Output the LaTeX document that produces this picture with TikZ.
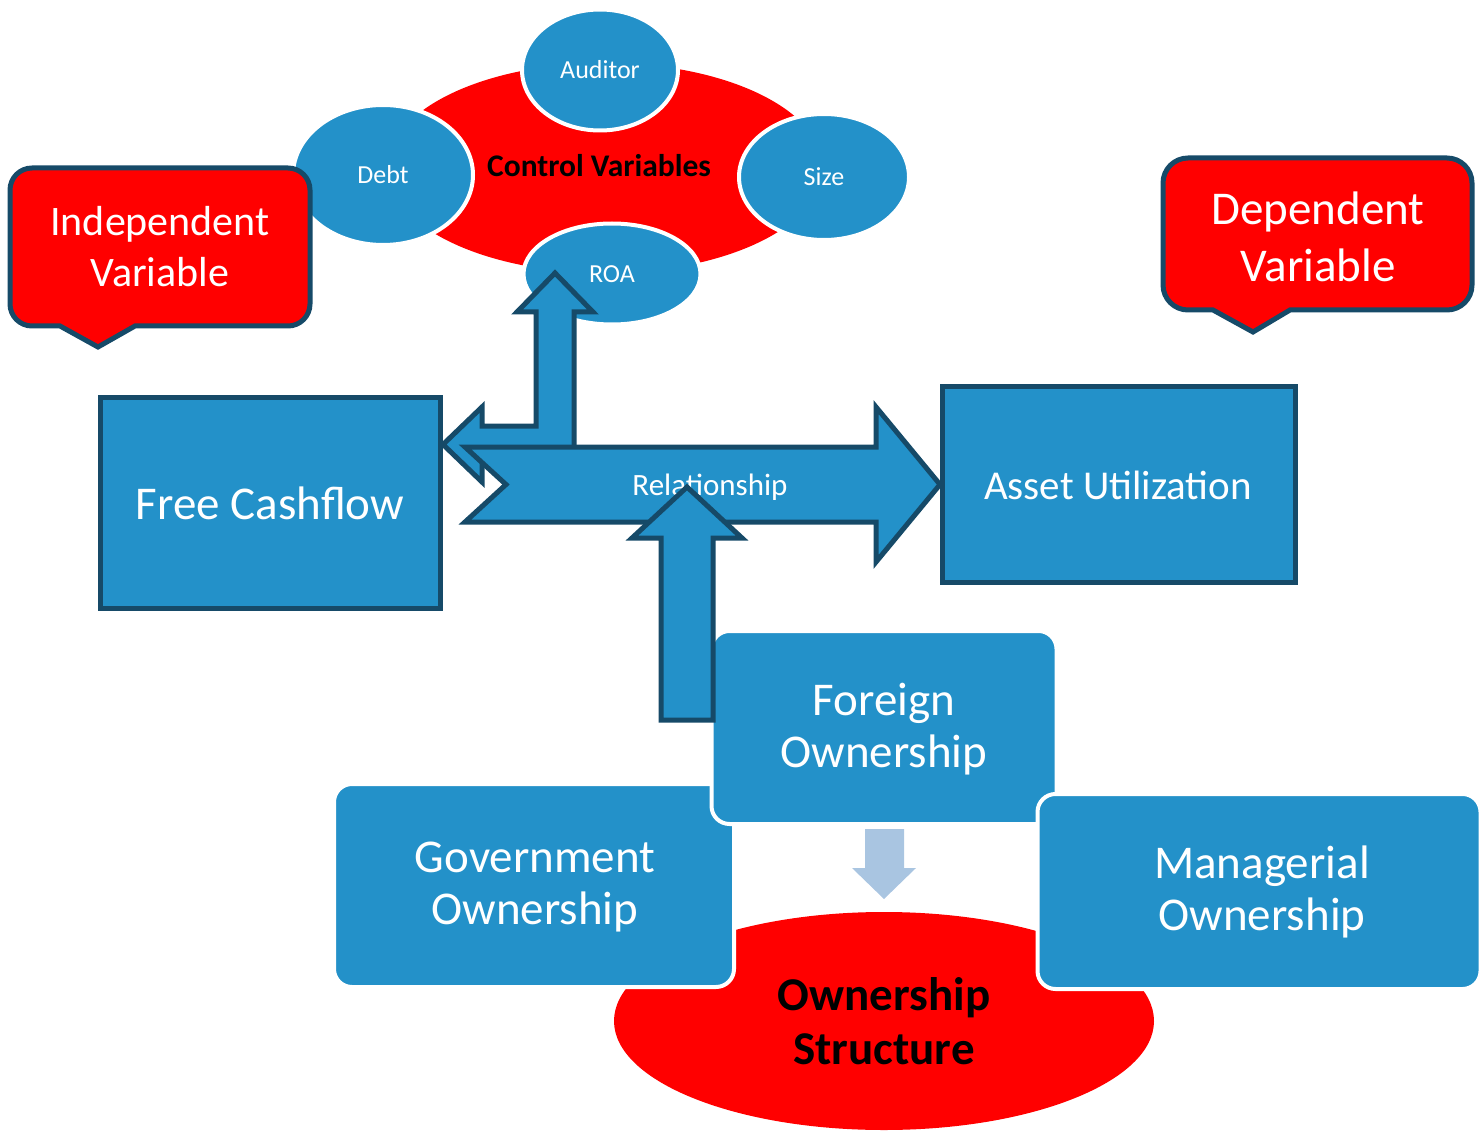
\documentclass[tikz,border=0pt]{standalone}
\usepackage{fontspec}
\setmainfont{Carlito}
\usetikzlibrary{shapes.geometric}
\definecolor{boxblue}{RGB}{35,145,201}
\definecolor{edgeblue}{RGB}{22,74,104}
\definecolor{hotred}{RGB}{255,0,0}
\definecolor{paleblue}{RGB}{169,197,225}
\newcommand{\fsz}[2]{\fontsize{#1}{#2}\selectfont}
\begin{document}
\begin{tikzpicture}[x=1pt,y=1pt,
  lbl/.style={text=white, align=center, inner sep=0pt},
  darklbl/.style={text=black, align=center, inner sep=0pt, font=\bfseries},
  ovalbox/.style={ellipse, fill=boxblue, draw=white, line width=4pt, inner sep=0pt},
  squarebox/.style={rectangle, fill=boxblue, draw=edgeblue, line width=5pt},
  softbox/.style={rectangle, rounded corners=18pt, fill=boxblue, draw=white, line width=4pt},
  blockarrow/.style={fill=boxblue, draw=edgeblue, line width=5pt},
  callout/.style={fill=hotred, draw=edgeblue, line width=5pt}]
\useasboundingbox (0,0) rectangle (1480,-1131);

% --- control variables cluster ---
\fill[hotred] (605,-168) ellipse [x radius=218, y radius=105];
\node[darklbl, font=\bfseries\fsz{31.5}{37}] (ctrl) at (599,-166) {Control Variables};
\node[ovalbox, minimum width=156pt, minimum height=121pt, font=\fsz{26}{30}, text=white] (aud) at (600,-70) {Auditor};
\node[ovalbox, minimum width=180pt, minimum height=140pt, font=\fsz{26}{30}, text=white] (debt) at (383,-175) {Debt};
\node[ovalbox, minimum width=170pt, minimum height=126pt, font=\fsz{26}{30}, text=white] (size) at (824,-177) {Size};
\node[ovalbox, minimum width=177pt, minimum height=101pt, font=\fsz{26}{30}, text=white] (roa) at (612,-274) {ROA};

% --- bent arrow towards ROA and back to free cashflow ---
\path[blockarrow] (555,-273) -- (593,-312) -- (574,-312) -- (574,-463) -- (482,-463)
  -- (482,-482) -- (443,-444.5) -- (482,-407) -- (482,-426) -- (536,-426)
  -- (536,-312) -- (517,-312) -- cycle;

% --- callouts ---
\path[callout] (60,-326) -- (32,-326) arc[start angle=270, end angle=180, radius=22pt]
  -- (10,-190) arc[start angle=180, end angle=90, radius=22pt]
  -- (288,-168) arc[start angle=90, end angle=0, radius=22pt]
  -- (310,-304) arc[start angle=0, end angle=-90, radius=22pt]
  -- (135,-326) -- (98,-347) -- cycle;
\node[lbl, font=\fsz{42}{51}] (indep) at (160,-247) {Independent\\Variable};

\path[callout] (1213,-310) -- (1188,-310) arc[start angle=270, end angle=180, radius=25pt]
  -- (1163,-183) arc[start angle=180, end angle=90, radius=25pt]
  -- (1447,-158) arc[start angle=90, end angle=0, radius=25pt]
  -- (1472,-285) arc[start angle=0, end angle=-90, radius=25pt]
  -- (1290,-310) -- (1253,-332) -- cycle;
\node[lbl, font=\fsz{47}{57}] (dep) at (1318,-237) {Dependent\\Variable};

% --- main boxes ---
\node[squarebox, minimum width=340pt, minimum height=211pt] (fcf) at (270,-502.5) {};
\node[lbl, font=\fsz{47}{56}] (fcftext) at (270,-503) {Free Cashflow};
\node[squarebox, minimum width=353pt, minimum height=196pt] (asset) at (1118.5,-484) {};
\node[lbl, font=\fsz{41}{50}] (assettext) at (1118,-485) {Asset Utilization};

% --- relationship arrow ---
\path[blockarrow] (465,-447) -- (876,-447) -- (876,-407) -- (940,-484.5) -- (876,-562)
  -- (876,-522) -- (465,-522) -- (506,-484.5) -- cycle;
\node[lbl, font=\fsz{31}{37}] (rel) at (710,-487) {Relationship};

% --- ownership structure ---
\fill[hotred] (884,-1021) ellipse [x radius=270, y radius=109];
\node[darklbl, font=\bfseries\fsz{47}{54}] (own) at (884,-1021) {Ownership\\Structure};
\node[softbox, minimum width=400pt, minimum height=203pt] (gov) at (534,-885.5) {};
\node[lbl, font=\fsz{47}{52}] (govtext) at (535,-887) {Government\\Ownership};
\node[softbox, minimum width=345pt, minimum height=193pt] (for) at (884,-727.5) {};
\node[lbl, font=\fsz{47}{52}] (fortext) at (884,-729) {Foreign\\Ownership};
\node[softbox, minimum width=443pt, minimum height=195pt] (man) at (1259,-891.5) {};
\node[lbl, font=\fsz{47}{52}] (mantext) at (1262,-892) {Managerial\\Ownership};

% --- up arrow from foreign ownership to the relationship ---
\path[blockarrow] (661,-720) -- (661,-538) -- (632,-538) -- (687,-487) -- (742,-538)
  -- (713,-538) -- (713,-720) -- cycle;

% --- pale arrow down to ownership structure ---
\fill[paleblue] (865,-829) -- (904,-829) -- (904,-868) -- (916,-868) -- (884,-899)
  -- (852,-868) -- (865,-868) -- cycle;
\end{tikzpicture}
\end{document}
